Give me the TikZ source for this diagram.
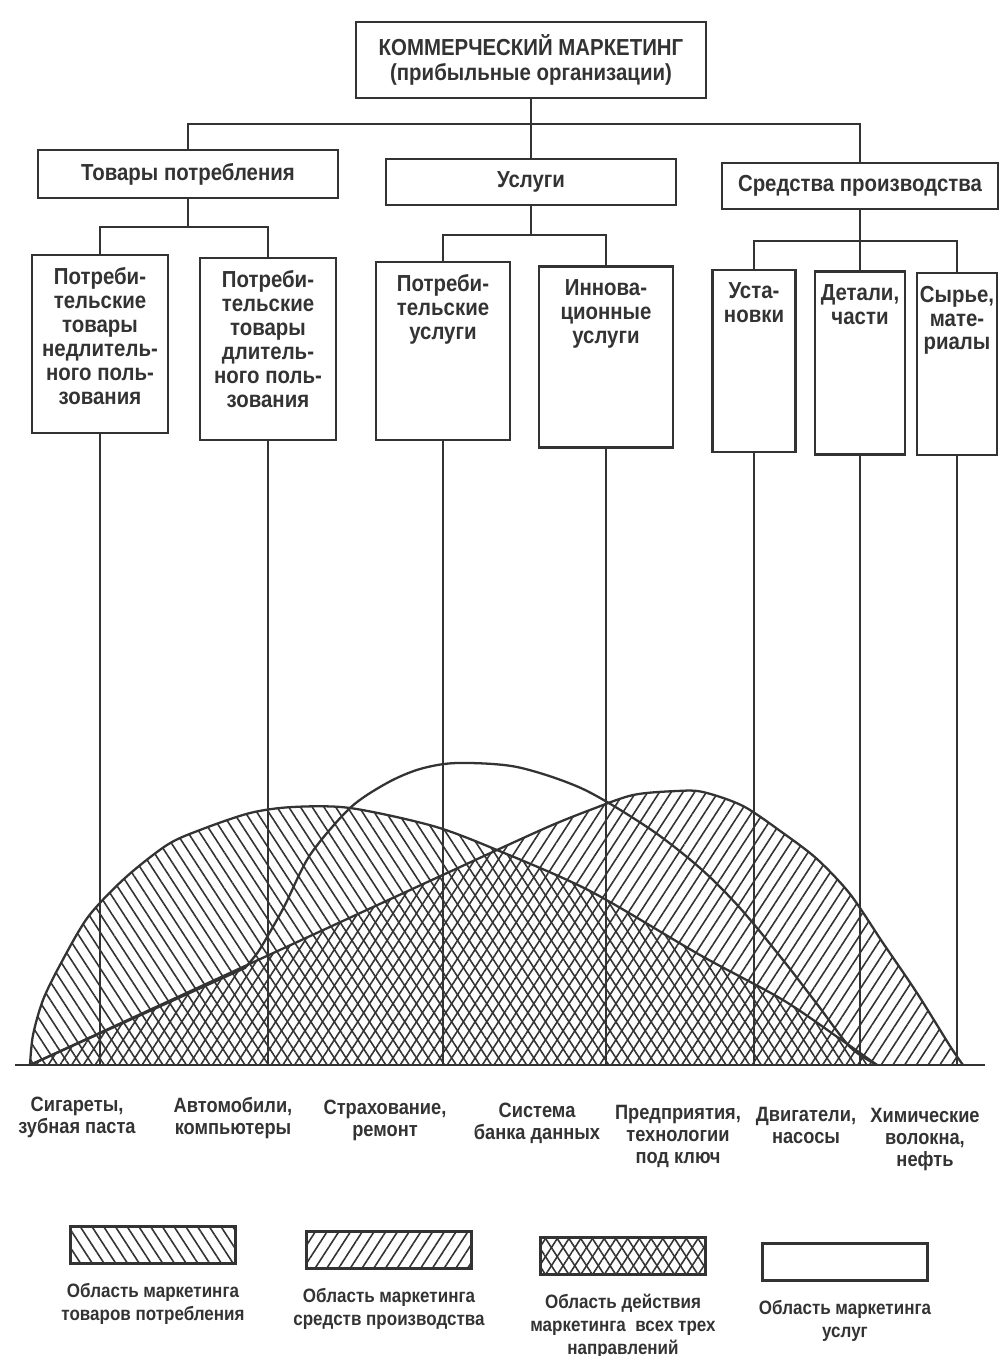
\documentclass[tikz,border=0pt]{standalone}
\usepackage{fontspec}
\setmainfont{Liberation Sans}[FakeStretch=0.88]
\usetikzlibrary{positioning,patterns.meta}
\colorlet{ink}{black!80}

\begin{document}
\begin{tikzpicture}[x=0.02cm,y=-0.02cm,
    box/.style={draw=ink,line width=1.6pt,text=ink,align=center,
      font=\bfseries\fontsize{13.2}{14.6}\selectfont},
    btext/.style={text=ink,align=center,inner sep=0pt,
      font=\bfseries\fontsize{13.2}{13.6}\selectfont},
    ltext/.style={text=ink,align=center,inner sep=0pt,
      font=\bfseries\fontsize{11.8}{12.6}\selectfont},
    gtext/.style={text=ink,align=center,inner sep=0pt,
      font=\bfseries\fontsize{11}{13}\selectfont},
    kbox/.style={draw=ink,line width=1.6pt,minimum width=3.3cm,minimum height=0.74cm},
    conn/.style={draw=ink,line width=1.3pt},
    curve/.style={draw=ink,line width=1.3pt},
    nwhatch/.style={pattern={Lines[angle=-57,distance=5.6pt,line width=0.9pt]},pattern color=ink},
    nehatch/.style={pattern={Lines[angle=57,distance=5.6pt,line width=0.9pt]},pattern color=ink}]

\useasboundingbox (0,0) rectangle (1000,1356);

% Top of the tree
\node[box,minimum width=7cm,minimum height=1.52cm] (top) at (531,60)
  {КОММЕРЧЕСКИЙ МАРКЕТИНГ\\(прибыльные организации)};

% First level
\node[box,minimum width=6cm,minimum height=0.96cm] (g1) at (188,174) {Товары потребления};
\node[box,minimum width=5.8cm,minimum height=0.92cm] (g2) at (531,182) {Услуги};
\node[box,minimum width=5.52cm,minimum height=0.92cm] (g3) at (860,186) {Средства производства};

% Second level boxes, text sits at the top
\node[box,minimum width=2.72cm,minimum height=3.56cm] (b1) at (100,344) {};
\node[box,minimum width=2.72cm,minimum height=3.64cm] (b2) at (268,349) {};
\node[box,minimum width=2.68cm,minimum height=3.56cm] (b3) at (443,351) {};
\node[box,minimum width=2.68cm,minimum height=3.62cm] (b4) at (606,357) {};
\node[box,minimum width=1.66cm,minimum height=3.64cm] (b5) at (754,361) {};
\node[box,minimum width=1.8cm,minimum height=3.66cm] (b6) at (860,363) {};
\node[box,minimum width=1.6cm,minimum height=3.64cm] (b7) at (957,364) {};

\node[btext,below=0.28cm of b1.north] (t1) {Потреби-\\тельские\\товары\\недлитель-\\ного поль-\\зования};
\node[btext,below=0.28cm of b2.north] (t2) {Потреби-\\тельские\\товары\\длитель-\\ного поль-\\зования};
\node[btext,below=0.28cm of b3.north] (t3) {Потреби-\\тельские\\услуги};
\node[btext,below=0.28cm of b4.north] (t4) {Иннова-\\ционные\\услуги};
\node[btext,below=0.28cm of b5.north] (t5) {Уста-\\новки};
\node[btext,below=0.28cm of b6.north] (t6) {Детали,\\части};
\node[btext,below=0.28cm of b7.north] (t7) {Сырье,\\мате-\\риалы};

% Connectors of the tree
\coordinate (t0) at (531,124);
\coordinate (c1) at (188,227);
\coordinate (c2) at (531,235);
\coordinate (c3) at (860,241);
\draw[conn] (top.south) -- (t0) -- (g2.north);
\draw[conn] (g1.north) |- (t0) -| (g3.north);
\draw[conn] (g1.south) -- (c1);
\draw[conn] (b1.north) |- (c1) -| (b2.north);
\draw[conn] (g2.south) -- (c2);
\draw[conn] (b3.north) |- (c2) -| (b4.north);
\draw[conn] (g3.south) -- (c3) -- (b6.north);
\draw[conn] (b5.north) |- (c3) -| (b7.north);

% Hatched areas: consumer goods and means of production
\path[nwhatch] plot[smooth] coordinates {(30,1065) (33,1035) (43,1000) (60,965) (88,917)
  (125,878) (167,845) (200,830) (250,813) (293,807) (350,808) (433,826) (497,850)
  (590,891) (700,955) (783,1000) (843,1041) (877,1065)} -- cycle;
\path[nehatch] (30,1065) -- plot[smooth] coordinates {(497,850) (550,826) (590,810)
  (633,795) (677,791) (703,792) (743,806) (783,833) (817,859) (850,894) (883,943)
  (917,993) (950,1046) (963,1065)} -- cycle;

% Outlines of the three areas
\draw[curve] plot[smooth] coordinates {(30,1065) (33,1035) (43,1000) (60,965) (88,917)
  (125,878) (167,845) (200,830) (250,813) (293,807) (350,808) (433,826) (497,850)
  (590,891) (700,955) (783,1000) (843,1041) (877,1065)};
\draw[curve] (30,1065) -- plot[smooth] coordinates {(497,850) (550,826) (590,810)
  (633,795) (677,791) (703,792) (743,806) (783,833) (817,859) (850,894) (883,943)
  (917,993) (950,1046) (963,1065)};
\draw[curve] (30,1065) -- plot[smooth] coordinates {(245,968) (258,952) (270,932)
  (285,905) (310,855) (350,808) (387,783) (420,769) (457,763) (517,767) (583,789)
  (650,829) (700,868) (740,908) (783,960) (817,1004) (850,1047) (877,1065)};

% Lines from the boxes down to the base line
\coordinate (base) at (0,1065);
\foreach \b in {b1,b2,b3,b4,b5,b6,b7} {
    \draw[conn,line width=1.1pt] (\b.south) -- (\b.south |- base);
}
\draw[curve,line width=1.6pt] (15,1065) -- (985,1065);

% Examples under the base line
\node[ltext,anchor=north] (s1) at (77,1097) {Сигареты,\\зубная паста};
\node[ltext,anchor=north] (s2) at (233,1097) {Автомобили,\\компьютеры};
\node[ltext,anchor=north] (s3) at (385,1100) {Страхование,\\ремонт};
\node[ltext,anchor=north] (s4) at (537,1103) {Система\\банка данных};
\node[ltext,anchor=north] (s5) at (678,1105) {Предприятия,\\технологии\\под ключ};
\node[ltext,anchor=north] (s6) at (806,1107) {Двигатели,\\насосы};
\node[ltext,anchor=north] (s7) at (925,1108) {Химические\\волокна,\\нефть};

% Legend
\node[kbox,nwhatch] (k1) at (153,1245) {};
\node[kbox,nehatch] (k2) at (389,1250) {};
\node[kbox,nwhatch,postaction={nehatch}] (k3) at (623,1256) {};
\node[kbox] (k4) at (845,1262) {};
\node[gtext,below=0.36cm of k1] (m1) {Область маркетинга\\товаров потребления};
\node[gtext,below=0.36cm of k2] (m2) {Область маркетинга\\средств производства};
\node[gtext,below=0.36cm of k3] (m3) {Область действия\\маркетинга\ \ всех трех\\направлений};
\node[gtext,below=0.36cm of k4] (m4) {Область маркетинга\\услуг};

\end{tikzpicture}
\end{document}
